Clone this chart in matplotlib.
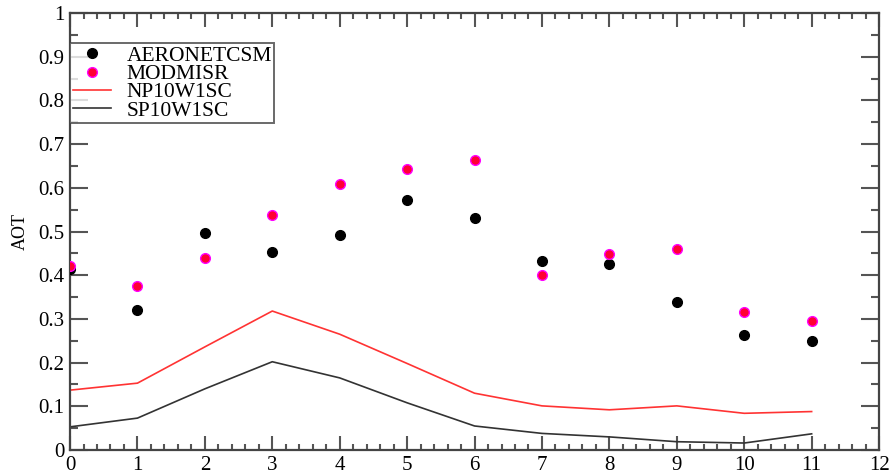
import matplotlib.pyplot as plt
from matplotlib.ticker import MultipleLocator

plt.rcParams['font.family'] = ['Liberation Serif', 'DejaVu Serif']

months = list(range(12))
aeronet = [0.414, 0.321, 0.496, 0.453, 0.492, 0.573, 0.531, 0.432, 0.426, 0.339, 0.263, 0.250]
modmisr = [0.421, 0.375, 0.439, 0.537, 0.608, 0.644, 0.663, 0.400, 0.449, 0.460, 0.316, 0.295]
np10 = [0.137, 0.153, 0.236, 0.318, 0.265, 0.198, 0.130, 0.101, 0.092, 0.101, 0.084, 0.088]
sp10 = [0.053, 0.073, 0.140, 0.202, 0.165, 0.108, 0.055, 0.038, 0.030, 0.019, 0.016, 0.037]

fig = plt.figure(figsize=(8.91, 4.74), dpi=100)
ax = fig.add_axes([0.0786, 0.0506, 0.908, 0.922])

ax.plot(months, aeronet, 'o', color='black', markersize=7, label='AERONETCSM', zorder=3)
ax.plot(months, modmisr, 'o', color='#ff0033', markeredgecolor='#ff00ff', markeredgewidth=1.0,
        markersize=7, label='MODMISR', zorder=3)
ax.plot(months, np10, '-', color='#ff3333', lw=1.2, label='NP10W1SC')
ax.plot(months, sp10, '-', color='#333333', lw=1.2, label='SP10W1SC')

ax.set_xlim(0, 12)
ax.set_ylim(0, 1)
ax.set_xticks(range(13))
ax.set_xticklabels([str(i) for i in range(13)])
ax.xaxis.set_minor_locator(MultipleLocator(0.2))
ax.set_yticks([i / 10 for i in range(11)])
ax.set_yticklabels(['0'] + ['0.%d' % i for i in range(1, 10)] + ['1'])
ax.yaxis.set_minor_locator(MultipleLocator(0.05))

for s in ax.spines.values():
    s.set_color('#444444')
    s.set_linewidth(1.6)
ax.tick_params(axis='both', which='both', direction='in', top=True, right=True,
               color='#555555', width=1.5, labelsize=15, pad=4)
ax.tick_params(axis='x', which='major', length=10)
ax.tick_params(axis='x', which='minor', length=4)
ax.tick_params(axis='y', which='major', length=13)
ax.tick_params(axis='y', which='minor', length=6)

ax.set_ylabel('AOT', fontsize=13, labelpad=7)

leg = ax.legend(loc='upper left', bbox_to_anchor=(0.0, 0.931), fontsize=15.5,
                frameon=True, fancybox=False, borderaxespad=0, handlelength=1.8,
                handletextpad=0.7, labelspacing=-0.08, borderpad=0.12)
leg.get_frame().set_edgecolor('#444444')
leg.get_frame().set_linewidth(1.4)

fig.savefig('out.png', dpi=100)
